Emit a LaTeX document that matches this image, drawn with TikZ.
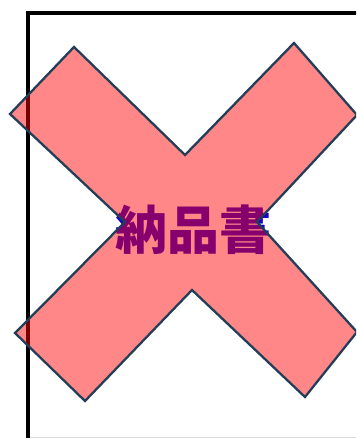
\documentclass[tikz,border=0pt]{standalone}
\usepackage{fontspec}
\newfontfamily\cjk{Noto Sans CJK JP}
\usetikzlibrary{positioning}
\definecolor{crossred}{RGB}{255,0,0}
\definecolor{crossline}{RGB}{35,62,88}
\definecolor{titleblue}{RGB}{25,0,205}

\begin{document}
\begin{tikzpicture}[x=1pt,y=1pt]
                    \tikzstyle{every node}+=[inner sep=0pt]
                    \tikzstyle{title}=[text=titleblue, font=\cjk\bfseries\fontsize{52}{52}\selectfont]
                    \tikzstyle{cross}=[draw=crossline, line width=2.3pt, line join=miter, fill=crossred, fill opacity=0.47]
                    \useasboundingbox (0,0) rectangle (356,-438);
                    \clip (0,0) rectangle (356,-438);
                    % sheet
                    \draw [gray!30, line width=1pt] (28,-437.5) -- (370,-437.5);
                    \draw [black, line width=3.5pt] (28,-470) -- (28,-13) -- (370,-13);
                    \node [title] (doc) at (193,-230) {納品書};
                    % cross
                    \draw [cross] (74,-47) -- (185,-155) -- (294,-43) -- (357,-115)
                        -- (257,-222) -- (357,-332) -- (305,-397) -- (192,-290)
                        -- (85,-401) -- (15,-333) -- (125,-222) -- (10,-114) -- cycle;
\end{tikzpicture}
\end{document}
